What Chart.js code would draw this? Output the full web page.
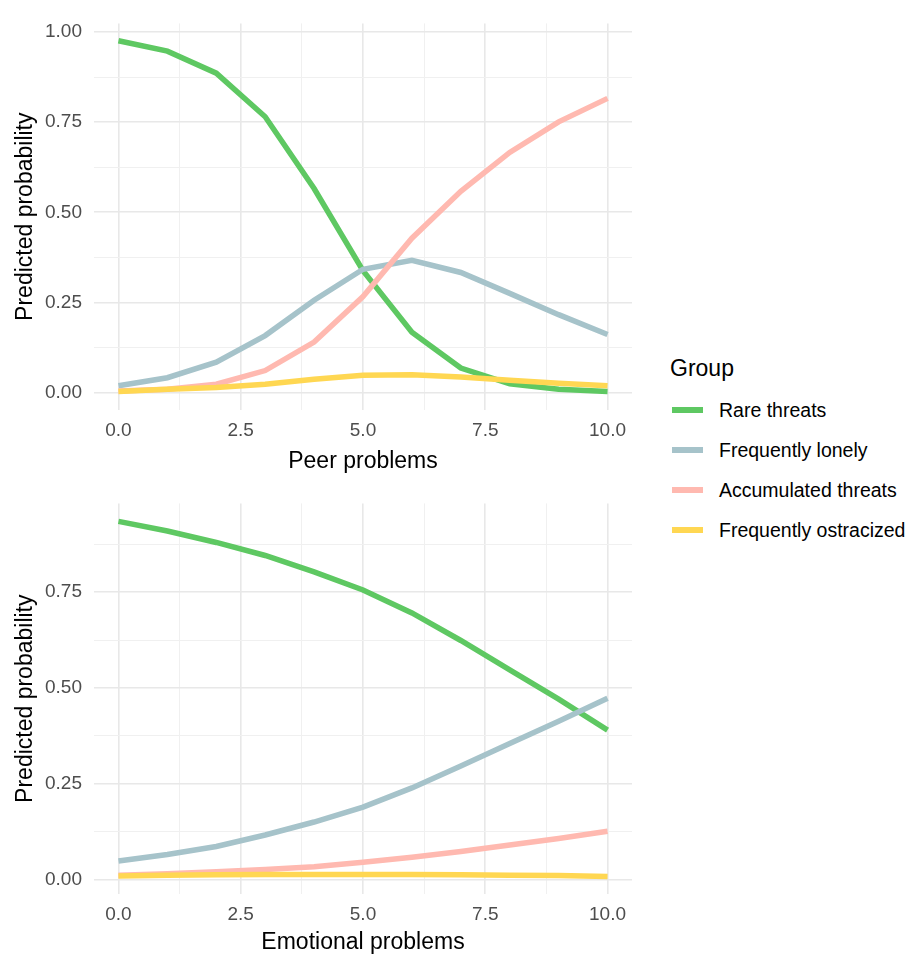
<!DOCTYPE html>
<html lang="en">
<head>
  <meta charset="UTF-8">
  <title>Predicted probability by group</title>
  <script src="https://cdn.jsdelivr.net/npm/chart.js"></script>
  <style>
    body {
      margin: 0;
      background: #fff;
      font-family: "Liberation Sans", Arial, sans-serif;
    }
    .wrap {
      position: relative;
      width: 909px;
      height: 956px;
    }
    #peerChart { position: absolute; left: 0; top: 0; }
    #emoChart { position: absolute; left: 0; top: 480px; }
    .legend {
      position: absolute;
      left: 670px;
      top: 352px;
      color: #000;
    }
    .legend h4 {
      margin: 0 0 6px 0;
      font-weight: normal;
      font-size: 23px;
      line-height: 32px;
    }
    .item {
      height: 40px;
      display: flex;
      align-items: center;
      font-size: 19.5px;
    }
    .key {
      width: 31px;
      height: 5.5px;
      margin: 0 16px 0 2px;
    }
  </style>
</head>
<body>
<div class="wrap">
  <canvas id="peerChart" width="640" height="475"></canvas>
  <canvas id="emoChart" width="640" height="476"></canvas>
  <div class="legend" id="legend">
    <h4>Group</h4>
  </div>
</div>

<script>
const groups = ["Rare threats", "Frequently lonely", "Accumulated threats", "Frequently ostracized"];
const colors = ["#5ec862", "#a6c3ca", "#ffb9b0", "#ffd752"];
const xValues = [0, 1, 2, 3, 4, 5, 6, 7, 8, 9, 10];

// Peer problems panel
const peerRare = [0.976, 0.947, 0.886, 0.765, 0.566, 0.338, 0.167, 0.068, 0.024, 0.009, 0.003];
const peerLonely = [0.019, 0.041, 0.084, 0.158, 0.256, 0.342, 0.367, 0.333, 0.275, 0.216, 0.161];
const peerAccum = [0.004, 0.009, 0.023, 0.061, 0.140, 0.266, 0.428, 0.558, 0.666, 0.751, 0.816];
const peerOstr = [0.003, 0.009, 0.014, 0.023, 0.037, 0.048, 0.049, 0.043, 0.034, 0.026, 0.019];

// Emotional problems panel
const emoRare = [0.935, 0.910, 0.880, 0.846, 0.803, 0.756, 0.696, 0.624, 0.547, 0.471, 0.390];
const emoLonely = [0.048, 0.065, 0.086, 0.116, 0.150, 0.189, 0.239, 0.296, 0.355, 0.413, 0.473];
const emoAccum = [0.011, 0.015, 0.020, 0.026, 0.033, 0.045, 0.058, 0.073, 0.090, 0.107, 0.126];
const emoOstr = [0.009, 0.011, 0.012, 0.013, 0.013, 0.013, 0.013, 0.012, 0.011, 0.010, 0.008];

const xTicks = [0, 1.25, 2.5, 3.75, 5, 6.25, 7.5, 8.75, 10];
const xMajor = [0, 2.5, 5, 7.5, 10];
const yTicksTop = [0, 0.125, 0.25, 0.375, 0.5, 0.625, 0.75, 0.875, 1];
const yTicksBottom = [0, 0.125, 0.25, 0.375, 0.5, 0.625, 0.75, 0.875];
const yMajor = [0, 0.25, 0.5, 0.75, 1];

function isMajor(list, v) {
  return list.some(m => Math.abs(m - v) < 1e-6);
}

function makeChart(id, series, xTitle, yMin, yMax, yTicks, padTop, xHeight) {
  const datasets = series.map((vals, i) => ({
    label: groups[i],
    data: xValues.map((x, j) => ({ x: x, y: vals[j] })),
    borderColor: colors[i],
    backgroundColor: colors[i],
    borderWidth: 5.5,
    pointRadius: 0,
    tension: 0,
    fill: false,
    // later groups drawn on top, like the original
    order: groups.length - i
  }));
  return new Chart(document.getElementById(id), {
    type: 'line',
    data: { datasets: datasets },
    options: {
      responsive: false,
      animation: false,
      events: [],
      layout: { padding: { top: padTop, left: 0, right: 8, bottom: 0 } },
      plugins: { legend: { display: false }, tooltip: { enabled: false } },
      scales: {
        x: {
          type: 'linear',
          min: -0.5,
          max: 10.5,
          afterBuildTicks: s => { s.ticks = xTicks.map(v => ({ value: v })); },
          afterFit: s => { s.height = xHeight; },
          border: { display: false },
          grid: {
            drawTicks: false,
            color: ctx => isMajor(xMajor, ctx.tick.value) ? '#e8e8e8' : '#f0f0f0',
            lineWidth: ctx => isMajor(xMajor, ctx.tick.value) ? 1.6 : 1
          },
          ticks: {
            padding: 9,
            color: '#4d4d4d',
            font: { family: '"Liberation Sans", Arial', size: 19 },
            maxRotation: 0,
            autoSkip: false,
            callback: v => isMajor(xMajor, v) ? v.toFixed(1) : ''
          },
          title: {
            display: true,
            text: xTitle,
            color: '#000',
            font: { family: '"Liberation Sans", Arial', size: 23 },
            padding: { top: 2, bottom: 0 }
          }
        },
        y: {
          type: 'linear',
          min: yMin,
          max: yMax,
          afterBuildTicks: s => { s.ticks = yTicks.map(v => ({ value: v })); },
          afterFit: s => { s.width = 94; },
          border: { display: false },
          grid: {
            drawTicks: false,
            color: ctx => isMajor(yMajor, ctx.tick.value) ? '#e8e8e8' : '#f0f0f0',
            lineWidth: ctx => isMajor(yMajor, ctx.tick.value) ? 1.6 : 1
          },
          ticks: {
            padding: 12,
            color: '#4d4d4d',
            font: { family: '"Liberation Sans", Arial', size: 19 },
            autoSkip: false,
            callback: v => isMajor(yMajor, v) ? v.toFixed(2) : ''
          },
          title: {
            display: true,
            text: 'Predicted probability',
            color: '#000',
            font: { family: '"Liberation Sans", Arial', size: 23 },
            padding: { top: 12, bottom: 0 }
          }
        }
      }
    }
  });
}

makeChart('peerChart', [peerRare, peerLonely, peerAccum, peerOstr], 'Peer problems',
  -0.0485, 1.024, yTicksTop, 12, 65);
makeChart('emoChart', [emoRare, emoLonely, emoAccum, emoOstr], 'Emotional problems',
  -0.038, 0.982, yTicksBottom, 15, 62);

const legend = document.getElementById('legend');
groups.forEach((g, i) => {
  const row = document.createElement('div');
  row.className = 'item';
  row.innerHTML = `<span class="key" style="background:${colors[i]}"></span>${g}`;
  legend.appendChild(row);
});
</script>
</body>
</html>
